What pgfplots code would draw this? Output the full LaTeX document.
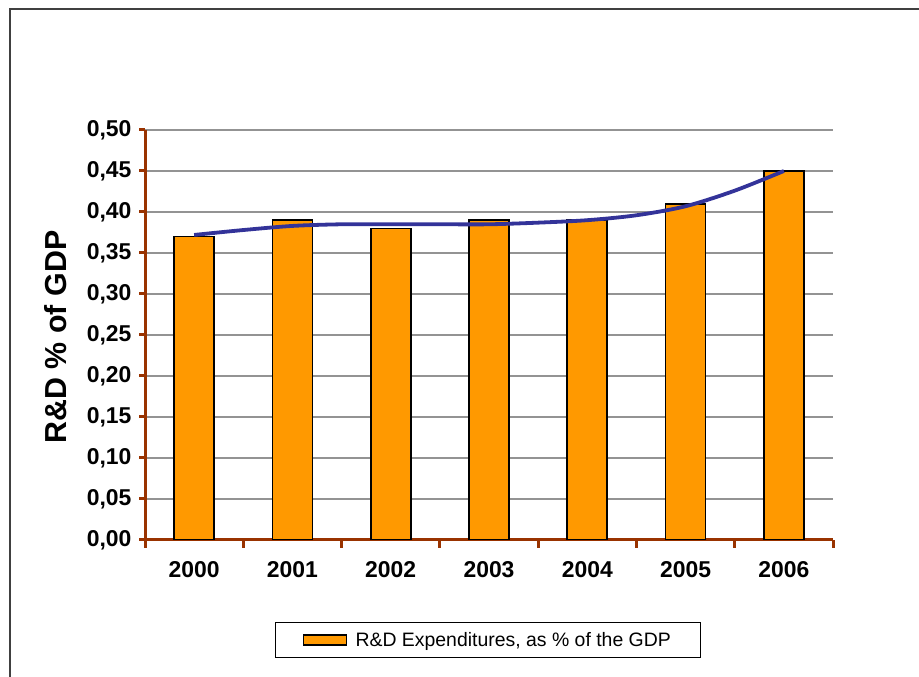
\documentclass[border=0pt]{standalone}
\usepackage{pgfplots}
\pgfplotsset{compat=1.18}
\usepackage{fontspec}
\setmainfont{Liberation Sans}
\definecolor{barorange}{HTML}{FF9900}
\definecolor{axbrown}{HTML}{993300}
\definecolor{trendblue}{HTML}{333399}
\begin{document}
\begin{tikzpicture}[x=1bp,y=1bp]
\useasboundingbox (0,0) rectangle (919,677);
\draw[line width=2bp, black!75] (9.5,0) -- (9.5,667.5) -- (919,667.5);
\node[rotate=90, font=\bfseries\fontsize{30.5}{30.5}\selectfont] at (56,340) {R\&D \% of GDP};
\begin{axis}[
  at={(145bp,137bp)}, anchor=south west,
  width=688bp, height=410bp, scale only axis,
  xmin=-0.5, xmax=6.5, ymin=0, ymax=0.5,
  axis x line*=bottom, axis y line*=left,
  axis line style={axbrown, line width=3bp, -},
  every tick/.style={axbrown, line width=3bp},
  tick align=outside,
  xtick={0,...,6},
  xticklabels={2000,2001,2002,2003,2004,2005,2006},
  major x tick style={draw=none},
  minor xtick={-0.5,0.5,...,6.5},
  minor tick length=8bp,
  ytick={0,0.05,...,0.51},
  major tick length=6bp,
  ymajorgrids,
  grid style={gray!85, line width=1.8bp},
  /pgf/number format/fixed, /pgf/number format/fixed zerofill, /pgf/number format/precision=2,
  /pgf/number format/use comma, /pgf/number format/assume math mode=true,
  ticklabel style={font=\bfseries\fontsize{23}{23}\selectfont},
  xticklabel style={yshift=-12bp},
  yticklabel style={xshift=-4bp},
  legend style={at={(0.4985,-0.244)}, anchor=center, draw=black, line width=0.9bp,
    font=\fontsize{19.5}{19.5}\selectfont, inner xsep=28bp, inner ysep=7.5bp,
    legend cell align=left},
  legend image code/.code={\draw[fill=barorange, draw=black, line width=1.4bp] (0bp,-5bp) rectangle (43bp,5bp); \path (49bp,0bp);},
]
\addplot[ybar, bar width=40bp, fill=barorange, draw=black, line width=1.6bp] coordinates {
  (0,0.37) (1,0.39) (2,0.38) (3,0.39) (4,0.39) (5,0.41) (6,0.45)};
\addlegendentry{R\&D Expenditures, as \% of the GDP}
\addplot[smooth, trendblue, line width=3.8bp, forget plot] coordinates {
  (0,0.372) (0.5,0.378) (1,0.383) (1.5,0.385) (2,0.385) (2.5,0.385) (3,0.385) (3.5,0.387) (4,0.390)
  (4.5,0.396) (5,0.407) (5.5,0.426) (6,0.450)};
\end{axis}
\end{tikzpicture}
\end{document}
